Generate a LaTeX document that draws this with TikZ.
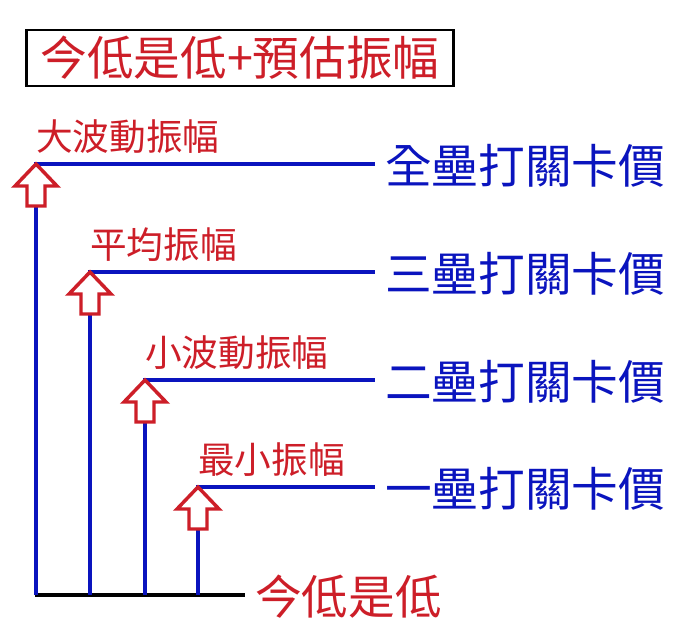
\documentclass[tikz,border=0pt]{standalone}
\usepackage{fontspec}
\usepackage{xcolor}
\usepackage{tikz}
\newfontfamily\cjk{Noto Sans CJK TC}
\definecolor{lvl-blue}{RGB}{10, 20, 190}
\definecolor{lvl-red}{RGB}{205, 30, 40}
\tikzset{
  lvl/.style={draw=lvl-blue, line width=2.8pt},
  uparrow/.style={draw=lvl-red, line width=2.6pt, fill=white},
  amp/.style={text=lvl-red, font=\cjk\fontsize{27.5}{27.5}\selectfont, anchor=south west, inner sep=0pt},
  price/.style={text=lvl-blue, font=\cjk\fontsize{35}{35}\selectfont, anchor=west, inner sep=0pt}
}
\begin{document}
\begin{tikzpicture}[x=0.75pt, y=-0.75pt]
          \useasboundingbox (0, 0) rectangle (678, 637);
          \fill[white] (0, 0) rectangle (678, 637);

          % title
          \node[draw=black, line width=2.2pt, minimum width=320pt, minimum height=42pt,
                text=lvl-red, font=\cjk\fontsize{35}{35}\selectfont] (title) at (240, 58) {今低是低+預估振幅};

          % base line
          \coordinate (base-l) at (35, 595);
          \coordinate (base-r) at (245, 595);
          \draw[line width=2.8pt] (base-l) -- (base-r);
          \node[text=lvl-red, font=\cjk\fontsize{35}{35}\selectfont, anchor=west, inner sep=0pt] (low) at (255, 597) {今低是低};

          % levels: x, y, amplitude, price
          \foreach \x/\y/\amp/\price/\id in {36/164/大波動振幅/全壘打關卡價/a,
                                            90/272/平均振幅/三壘打關卡價/b,
                                            145/380/小波動振幅/二壘打關卡價/c,
                                            198/487/最小振幅/一壘打關卡價/d} {
            \coordinate (foot-\id) at (\x, 595);
            \coordinate (top-\id) at (\x, \y);
            \coordinate (end-\id) at (375, \y);
            \draw[lvl] (foot-\id) -- (top-\id) -- (end-\id);
            \draw[uparrow] (top-\id) -- ++(21, 22) -- ++(-12, 0) -- ++(0, 20)
                           -- ++(-18, 0) -- ++(0, -20) -- ++(-12, 0) -- cycle;
            \node[amp] (amp-\id) at (\x, \y - 10) {\amp};
            \node[price] (price-\id) at (385, \y + 2) {\price};
          }
        \end{tikzpicture}
\end{document}
